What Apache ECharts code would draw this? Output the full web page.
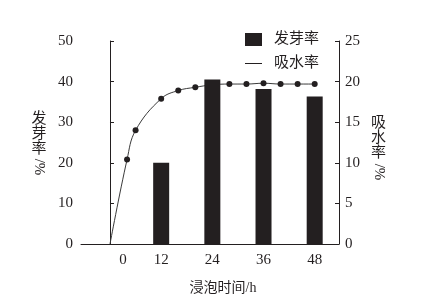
<!DOCTYPE html>
<html>
<head>
<meta charset="utf-8">
<script src="https://cdn.jsdelivr.net/npm/echarts@6/dist/echarts.min.js"></script>
<style>
html,body{margin:0;padding:0;background:#fff;}
#chart{width:428px;height:304px;}
</style>
</head>
<body>
<div id="chart"></div>
<script>
// Data
const barHours = [12, 24, 36, 48];
const germinationRate = [20, 40.5, 38.2, 36.3];          // 发芽率 (%) left axis
const lineHours = [0, 4, 6, 12, 16, 20, 24, 28, 32, 36, 40, 44, 48];
const waterUptake = [0, 10.4, 14.0, 17.9, 18.9, 19.3, 19.6, 19.7, 19.7, 19.8, 19.7, 19.7, 19.7]; // 吸水率 (%) right axis
const xTickValues = [0, 12, 24, 36, 48];
const seriesNames = ['发芽率', '吸水率'];
const xTitle = '浸泡时间/h';
const leftTitle = ['发芽率', '/%'];
const rightTitle = ['吸水率', '/%'];

const FONT = "'Liberation Serif', 'Noto Sans CJK SC', serif";
const INK = '#231f20';

const chart = echarts.init(document.getElementById('chart'), null, {renderer: 'canvas'});

const barData = barHours.map((h, i) => [h, germinationRate[i]]);
const lineData = lineHours.map((h, i) => i === 0 ? {value: [h, waterUptake[i]], symbol: 'none'} : [h, waterUptake[i]]);

function vText(x, y, s) {
  return {type: 'text', x: x, y: y, style: {text: s.split('').join('\n'), fontSize: 15, fontFamily: FONT, lineHeight: 15, fill: INK, align: 'center', verticalAlign: 'top'}};
}
function rText(x, y, s) {
  return {type: 'text', x: x, y: y, rotation: -Math.PI / 2, style: {text: s, fontSize: 15, fontFamily: FONT, fill: INK, align: 'center', verticalAlign: 'middle'}};
}

const option = {
  animation: false,
  backgroundColor: '#fff',
  textStyle: {fontFamily: FONT, color: INK},
  grid: {left: 81, right: 89, top: 41, bottom: 60},
  legend: {
    orient: 'vertical',
    left: 240,
    top: 27,
    itemWidth: 17,
    itemHeight: 13,
    itemGap: 9,
    textStyle: {fontFamily: FONT, fontSize: 15, color: INK, padding: [0, 0, 0, 7]},
    data: [
      {name: seriesNames[0], icon: 'rect'},
      {name: seriesNames[1], icon: 'path://M0,0H18V1.1H0Z'}
    ]
  },
  xAxis: {
    type: 'value',
    min: -6.8,
    max: 53.7,
    splitLine: {show: false},
    axisTick: {show: false},
    axisLine: {show: true, onZero: false, lineStyle: {color: INK, width: 1}},
    axisLabel: {
      customValues: xTickValues,
      margin: 9,
      fontSize: 15,
      fontFamily: FONT,
      color: INK,
      formatter: v => v === 0 ? '{z|0}' : String(v),
      rich: {z: {padding: [0, 0, 0, 26], fontSize: 15, fontFamily: FONT, color: INK}}
    }
  },
  yAxis: [
    {
      type: 'value', min: 0, max: 50, interval: 10,
      position: 'left',
      splitLine: {show: false},
      axisLine: {show: true, lineStyle: {color: INK, width: 1}},
      axisTick: {show: true, inside: true, length: 4, lineStyle: {color: INK}},
      axisLabel: {margin: 8, fontSize: 15, fontFamily: FONT, color: INK}
    },
    {
      type: 'value', min: 0, max: 25, interval: 5,
      position: 'right',
      splitLine: {show: false},
      axisLine: {show: true, lineStyle: {color: INK, width: 1}},
      axisTick: {show: true, inside: true, length: 4, lineStyle: {color: INK}},
      axisLabel: {margin: 6, fontSize: 15, fontFamily: FONT, color: INK}
    }
  ],
  series: [
    {
      name: seriesNames[1],
      type: 'line',
      yAxisIndex: 1,
      z: 1,
      smooth: 0.4,
      symbol: 'circle',
      symbolSize: 6,
      lineStyle: {color: '#3a3a3a', width: 1},
      itemStyle: {color: INK},
      data: lineData
    },
    {
      name: seriesNames[0],
      type: 'bar',
      yAxisIndex: 0,
      z: 3,
      barWidth: 16,
      itemStyle: {color: INK},
      data: barData
    }
  ],
  graphic: [
    {type: 'text', x: 223, y: 288, style: {text: xTitle, fontSize: 14, fontFamily: FONT, fill: INK, align: 'center', verticalAlign: 'middle'}},
    vText(39, 112, leftTitle[0]),
    rText(39, 167, leftTitle[1]),
    vText(378.5, 116, rightTitle[0]),
    rText(378.5, 172, rightTitle[1])
  ]
};
chart.setOption(option);
</script>
</body>
</html>
